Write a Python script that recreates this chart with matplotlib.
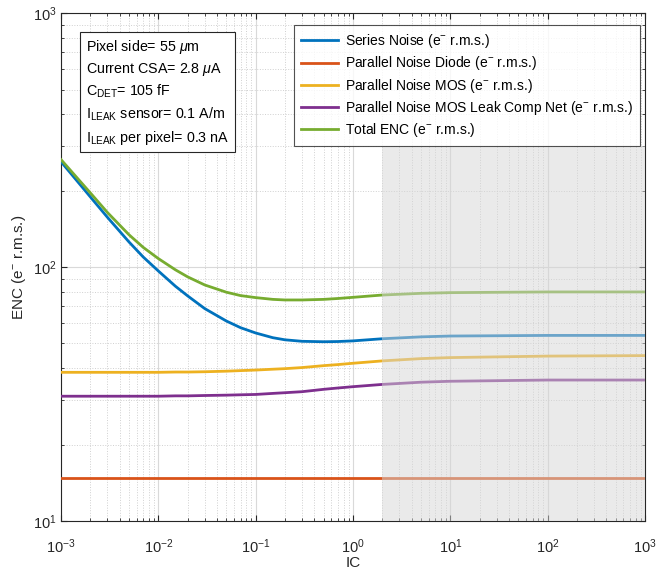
import matplotlib
matplotlib.use("Agg")
import matplotlib.pyplot as plt

plt.rcParams['font.family'] = ['Liberation Sans', 'DejaVu Sans']
plt.rcParams['mathtext.fontset'] = 'custom'
plt.rcParams['mathtext.rm'] = 'Liberation Sans'
plt.rcParams['mathtext.it'] = 'Liberation Sans:italic'

# values
ic = [1e-3, 2e-3, 3e-3, 5e-3, 7e-3, 1e-2, 1.5e-2, 2e-2, 3e-2, 5e-2, 7e-2,
      0.1, 0.15, 0.2, 0.3, 0.5, 0.7, 1, 2, 5, 10, 100, 1000]
series = [260, 189, 157, 125.5, 109.5, 96.5, 84, 77, 68.6, 61.3, 57.7,
          55, 52.7, 51.7, 51, 50.8, 50.9, 51.2, 52.2, 53.1, 53.5, 53.8, 53.8]
diode = [14.75] * len(ic)
mos = [38.5, 38.5, 38.5, 38.5, 38.5, 38.5, 38.6, 38.6, 38.7, 38.9, 39.1,
       39.3, 39.6, 39.8, 40.2, 40.9, 41.3, 41.8, 42.7, 43.6, 44.0, 44.6, 44.8]
leak = [31.0, 31.0, 31.0, 31.0, 31.0, 31.0, 31.1, 31.1, 31.2, 31.3, 31.4,
        31.5, 31.8, 32.0, 32.3, 33.0, 33.4, 33.8, 34.5, 35.2, 35.5, 35.9, 35.9]
total = [265, 196, 164, 134, 119.5, 108, 97.5, 91.5, 85, 79.6, 77.2,
         75.8, 74.6, 74.2, 74.2, 74.6, 75.2, 76, 77.6, 78.8, 79.3, 79.8, 79.8]

labels = ['Series Noise (e$^{-}$ r.m.s.)',
          'Parallel Noise Diode (e$^{-}$ r.m.s.)',
          'Parallel Noise MOS (e$^{-}$ r.m.s.)',
          'Parallel Noise MOS Leak Comp Net (e$^{-}$ r.m.s.)',
          'Total ENC (e$^{-}$ r.m.s.)']
colors = ['#0072BD', '#D95319', '#EDB120', '#7E2F8E', '#77AC30']
shade_x = [2, 1000]
shade_y = [10, 300]

fig = plt.figure(figsize=(6.66, 5.71), dpi=100)
ax = fig.add_axes([0.0916, 0.0876, 0.8769, 0.8894])

for y, lab, c in zip([series, diode, mos, leak, total], labels, colors):
    ax.plot(ic, y, color=c, lw=2, label=lab, zorder=3)

ax.fill_between(shade_x, shade_y[0], shade_y[1], color='#d6d6d6', alpha=0.5,
                lw=0, zorder=4)

ax.set_xscale('log')
ax.set_yscale('log')
ax.set_xlim(1e-3, 1e3)
ax.set_ylim(10, 1000)
ax.grid(True, which='major', color='#d9d9d9', lw=0.8, ls='-')
ax.grid(True, which='minor', color='#d0d0d0', lw=0.7, ls=':')
ax.tick_params(which='both', direction='in', colors='#262626', labelsize=10.5,
               top=True, right=True)
ax.tick_params(which='major', length=4)
ax.tick_params(which='minor', length=2)
ax.tick_params(axis='x', which='major', pad=12)
ax.tick_params(axis='y', which='major', pad=3)
for s in ax.spines.values():
    s.set_color('#262626')
    s.set_linewidth(0.8)
ax.set_axisbelow(True)

ax.set_xlabel('IC', fontsize=11, color='#262626', labelpad=0)
ax.set_ylabel('ENC (e$^{-}$ r.m.s.)', fontsize=11, color='#262626')

leg = ax.legend(loc='upper right', fontsize=10, frameon=True, fancybox=False,
                edgecolor='#262626', handlelength=2.7, handletextpad=0.5,
                borderpad=0.5, labelspacing=0.3, borderaxespad=0,
                bbox_to_anchor=(0.9914, 0.976))
leg.get_frame().set_linewidth(0.8)
leg.set_zorder(6)

info = ('Pixel side= 55 $\\mu$m\n'
        'Current CSA= 2.8 $\\mu$A\n'
        'C$_{\\mathregular{DET}}$= 105 fF\n'
        'I$_{\\mathregular{LEAK}}$ sensor= 0.1 A/m\n'
        'I$_{\\mathregular{LEAK}}$ per pixel= 0.3 nA')
ax.text(0.042, 0.952, info, transform=ax.transAxes, fontsize=10.3, va='top',
        ha='left', linespacing=1.42, zorder=6,
        bbox=dict(boxstyle='square,pad=0.4', fc='white', ec='#262626', lw=0.8))

fig.savefig('out.png', dpi=100)
